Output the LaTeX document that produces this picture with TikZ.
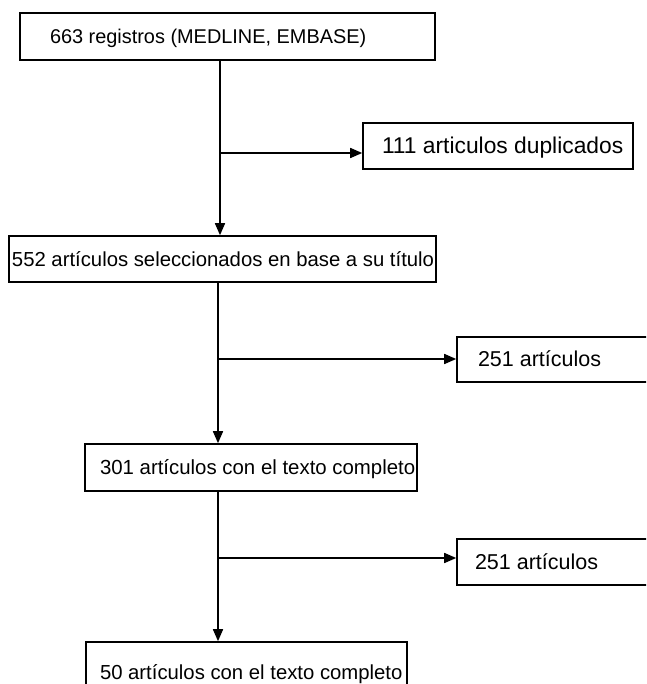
\documentclass[tikz,border=0pt]{standalone}
\usepackage{fontspec}
\setmainfont{Liberation Sans}
\usetikzlibrary{arrows.meta}
\newcommand\boxtext[4]{\fontsize{#3}{#3}\selectfont\makebox[#1pt][l]{\hspace*{#2pt}#4}}
\begin{document}
\begin{tikzpicture}[x=1pt,y=-1pt,
  box/.style={draw, line width=1.6pt, inner sep=0pt, text height=14.5pt, text depth=0pt},
  conn/.style={line width=1.6pt},
  arr/.style={conn,-{Triangle[length=12pt,width=10pt]}}]
\clip (0,0) rectangle (646,684);
\fill[white] (0,0) rectangle (646,684);
\node[box, minimum height=47pt] (t) at (227.5,36.5) {\boxtext{415}{30}{19.9}{663 registros (MEDLINE, EMBASE)}};
\node[box, minimum height=46pt] (dup) at (498,146) {\boxtext{270}{19}{22.8}{111 articulos duplicados}};
\node[box, minimum height=46pt] (s552) at (222.5,259) {\boxtext{427}{3}{20.3}{552 artículos seleccionados en base a su título}};
\node[box, minimum height=45pt] (e1) at (568.5,359.5) {\boxtext{223}{21}{21.5}{251 artículos}};
\node[box, minimum height=47pt] (c301) at (251,467.5) {\boxtext{332}{15}{20.4}{301 artículos con el texto completo}};
\node[box, minimum height=46pt] (e2) at (568.5,562) {\boxtext{223}{18}{21.5}{251 artículos}};
\node[box, minimum height=60pt] (f50) at (246.5,672) {\boxtext{321}{14}{20.3}{50 artículos con el texto completo}};
\coordinate (j1) at (220,153);
\draw[arr] (t.south -| j1) -- (s552.north -| j1);
\draw[arr] (j1) -- (dup.west |- j1);
\coordinate (j2) at (218,359);
\draw[arr] (s552.south -| j2) -- (c301.north -| j2);
\draw[arr] (j2) -- (e1.west |- j2);
\coordinate (j3) at (218,558);
\draw[arr] (c301.south -| j3) -- (f50.north -| j3);
\draw[arr] (j3) -- (e2.west |- j3);
\end{tikzpicture}
\end{document}
